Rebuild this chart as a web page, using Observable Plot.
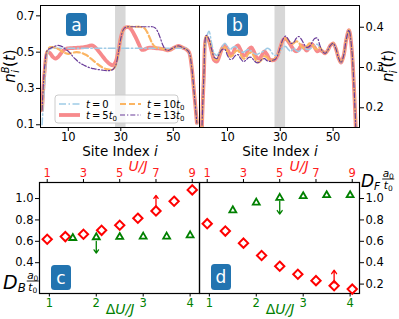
<!DOCTYPE html>
<html><head><meta charset="utf-8">
<script src="https://cdn.jsdelivr.net/npm/d3@7"></script>
<script src="https://cdn.jsdelivr.net/npm/@observablehq/plot@0.6"></script>
<style>
html,body{margin:0;padding:0;background:#fff;}
#fig{position:relative;width:399px;height:319px;overflow:hidden;font-family:"DejaVu Sans",sans-serif;background:#fff;}
#fig > svg{position:absolute;max-width:none;}
</style></head><body><div id="fig"></div>
<script>
// ---------- Panel a: boson density n_i^B(t), site index = array position ----------
const nB_t0 = [0.10,0.33,0.49,0.515,0.522,0.522,0.522,0.522,0.522,0.522,
  0.522,0.522,0.522,0.522,0.522,0.522,0.522,0.522,0.522,0.522,
  0.522,0.522,0.522,0.522,0.522,0.522,0.522,0.522,0.522,0.522,
  0.522,0.522,0.522,0.522,0.522,0.522,0.522,0.522,0.522,0.522,
  0.522,0.522,0.522,0.522,0.522,0.522,0.522,0.522,0.522,0.522,
  0.522,0.522,0.522,0.522,0.522,0.522,0.50,0.42,0.27,0.11];
const nB_t5 = [0.18,0.40,0.50,0.495,0.475,0.464,0.472,0.49,0.508,0.518,
  0.521,0.522,0.523,0.524,0.525,0.526,0.528,0.531,0.535,0.537,
  0.53,0.515,0.497,0.478,0.46,0.445,0.433,0.428,0.445,0.50,
  0.58,0.625,0.637,0.637,0.625,0.60,0.572,0.54,0.513,0.514,
  0.522,0.525,0.524,0.522,0.521,0.52,0.518,0.514,0.51,0.514,
  0.522,0.53,0.534,0.53,0.522,0.515,0.50,0.42,0.27,0.11];
const nB_t10 = [0.18,0.41,0.51,0.527,0.528,0.525,0.518,0.51,0.50,0.494,
  0.491,0.493,0.498,0.50,0.499,0.496,0.49,0.483,0.472,0.46,
  0.448,0.436,0.425,0.416,0.409,0.405,0.403,0.405,0.425,0.49,
  0.575,0.625,0.638,0.64,0.64,0.64,0.64,0.64,0.638,0.632,
  0.612,0.58,0.548,0.53,0.524,0.522,0.518,0.514,0.51,0.514,
  0.522,0.53,0.534,0.53,0.522,0.515,0.50,0.42,0.27,0.11];
const nB_t13 = [0.18,0.42,0.51,0.52,0.527,0.533,0.537,0.535,0.528,0.515,
  0.505,0.49,0.472,0.458,0.445,0.435,0.428,0.421,0.415,0.411,
  0.408,0.405,0.403,0.401,0.399,0.398,0.399,0.405,0.425,0.49,
  0.575,0.625,0.638,0.64,0.64,0.64,0.64,0.64,0.64,0.64,
  0.64,0.64,0.64,0.635,0.615,0.58,0.54,0.515,0.509,0.515,
  0.524,0.531,0.535,0.53,0.522,0.515,0.50,0.42,0.27,0.11];

// ---------- Panel b: fermion density n_i^F(t) ----------
const nF_t0 = [0.08,0.27,0.37,0.39,0.36,0.335,0.33,0.34,0.352,0.36,
  0.352,0.345,0.35,0.352,0.345,0.34,0.338,0.342,0.345,0.34,
  0.335,0.332,0.335,0.338,0.342,0.348,0.345,0.335,0.33,0.332,
  0.34,0.35,0.352,0.345,0.34,0.348,0.342,0.34,0.345,0.35,
  0.345,0.345,0.35,0.355,0.358,0.35,0.34,0.335,0.343,0.355,
  0.36,0.348,0.325,0.312,0.33,0.37,0.393,0.35,0.24,0.08];
const nF_t5 = [0.08,0.27,0.375,0.365,0.34,0.318,0.315,0.33,0.348,0.355,
  0.345,0.333,0.335,0.35,0.355,0.343,0.33,0.332,0.345,0.35,
  0.34,0.325,0.322,0.33,0.34,0.332,0.32,0.318,0.32,0.33,
  0.35,0.368,0.372,0.365,0.355,0.345,0.34,0.345,0.355,0.35,
  0.342,0.35,0.358,0.35,0.34,0.343,0.34,0.335,0.343,0.355,
  0.36,0.348,0.325,0.312,0.33,0.37,0.393,0.35,0.24,0.08];
const nF_t10 = [0.08,0.27,0.378,0.368,0.342,0.322,0.32,0.333,0.348,0.35,
  0.338,0.327,0.33,0.34,0.342,0.332,0.322,0.325,0.335,0.337,
  0.328,0.316,0.313,0.32,0.328,0.325,0.318,0.318,0.322,0.33,
  0.35,0.368,0.372,0.366,0.36,0.36,0.365,0.362,0.352,0.348,
  0.352,0.36,0.358,0.348,0.345,0.35,0.34,0.335,0.343,0.355,
  0.36,0.348,0.325,0.312,0.33,0.37,0.393,0.35,0.24,0.08];
const nF_t13 = [0.08,0.27,0.38,0.37,0.345,0.325,0.322,0.335,0.345,0.345,
  0.33,0.32,0.322,0.33,0.332,0.322,0.315,0.318,0.325,0.325,
  0.318,0.312,0.313,0.32,0.322,0.317,0.315,0.318,0.32,0.33,
  0.35,0.37,0.378,0.37,0.36,0.362,0.372,0.377,0.37,0.358,
  0.35,0.352,0.362,0.372,0.373,0.355,0.34,0.335,0.343,0.355,
  0.36,0.348,0.325,0.312,0.33,0.37,0.393,0.35,0.24,0.08];

const bandSites = [28, 32];
const siteTicks = [10, 30, 50];
const nBTicks = [0.1, 0.3, 0.5, 0.7];
const nFTicks = [0.2, 0.3, 0.4];

// ---------- Panels c, d: diffusion constants ----------
const U_J = [1, 2, 3, 4, 5, 6, 7, 8, 9];
const DB_vsU = [0.619, 0.644, 0.666, 0.703, 0.75, 0.816, 0.884, 0.975, 1.081];
const DF_vsU = [0.765, 0.696, 0.583, 0.467, 0.367, 0.292, 0.232, 0.185, 0.153];
const dU_J = [1.5, 2, 2.5, 3, 3.5, 4];
const DB_vsdU = [0.631, 0.638, 0.641, 0.644, 0.644, 0.656];
const DF_vsdU = [0.890, 0.962, 1.006, 1.022, 1.031, 1.031];
const uTicks = [1, 3, 5, 7, 9];
const dUTicks = [1, 2, 3, 4];
const dBTicks = [0.4, 0.6, 0.8, 1.0];
const dFTicks = [0.2, 0.4, 0.6, 0.8, 1.0];
// trend arrows: [x, from, to]
const arrowC_U = [7, 0.925, 1.03];
const arrowC_dU = [2, 0.60, 0.49];
const arrowD_U = [8, 0.21, 0.33];
const arrowD_dU = [2.5, 0.975, 0.855];

const seriesLabels = ["0", "5", "10", "13"];

// ---------- drawing ----------
const FONT = "'DejaVu Sans', sans-serif";
const fig = document.getElementById("fig");
function place(node, left, top) {
  node.style.position = "absolute";
  node.style.left = left + "px";
  node.style.top = top + "px";
  fig.appendChild(node);
}
const styles = {
  "0":  {stroke: "#9fcbe6", w: 1.5, dash: "7,2.5,1.5,2.5"},
  "5":  {stroke: "#f78a8c", w: 3.8, dash: null},
  "10": {stroke: "#fbb563", w: 2.2, dash: "6,3"},
  "13": {stroke: "#6a3d9a", w: 1.2, dash: "5,2,1.3,2"}
};
const drawOrder = ["5", "0", "10", "13"];
const rows = arr => arr.map((v, i) => ({site: i, n: v}));

function densityPanel(series, yDomain, yTicks, side) {
  const marks = [Plot.rect([bandSites], {x1: d => d[0], x2: d => d[1], fill: "#d7d7d7"})];
  for (const k of drawOrder) {
    const s = styles[k];
    marks.push(Plot.line(rows(series[k]), {
      x: "site", y: "n", stroke: s.stroke, strokeWidth: s.w,
      strokeDasharray: s.dash, curve: "catmull-rom", clip: true
    }));
  }
  marks.push(Plot.frame({stroke: "black", strokeWidth: 1}));
  marks.push(Plot.axisX({ticks: siteTicks, tickSize: 4, tickPadding: 1, label: null, tickFormat: d3.format("d")}));
  marks.push(Plot.axisY({anchor: side, ticks: yTicks, tickSize: 4, tickPadding: 2, label: null, tickFormat: d3.format(".1f")}));
  return Plot.plot({
    width: 200, height: 160,
    marginLeft: side === "left" ? 40 : 0, marginRight: side === "left" ? 1 : 40,
    marginTop: 5, marginBottom: 33,
    x: {domain: [-0.6, 60], label: null},
    y: {domain: yDomain, label: null},
    style: {background: "transparent", fontSize: "11.5px", fontFamily: FONT, color: "black", overflow: "visible"},
    marks
  });
}

place(densityPanel({"0": nB_t0, "5": nB_t5, "10": nB_t10, "13": nB_t13}, [0.085, 0.757], nBTicks, "left"), 0, 0);
place(densityPanel({"0": nF_t0, "5": nF_t5, "10": nF_t10, "13": nF_t13}, [0.151, 0.454], nFTicks, "right"), 199, 0);

const geomCD = (side) => ({
  width: 200, height: 169,
  marginLeft: side === "left" ? 39 : 0, marginRight: side === "left" ? 1 : 40,
  marginTop: 32, marginBottom: 26
});
const Dy = [0.112, 1.15];

function uPanel(Dvals, yTicks, side, arrow) {
  const data = U_J.map((u, i) => ({u, D: Dvals[i]}));
  return Plot.plot({
    ...geomCD(side),
    x: {domain: [0.575, 9.4], label: null},
    y: {domain: Dy, label: null},
    style: {background: "transparent", fontSize: "11.5px", fontFamily: FONT, color: "black", overflow: "visible"},
    marks: [
      Plot.frame({stroke: "black", strokeWidth: 1.2}),
      Plot.axisX({anchor: "top", ticks: uTicks, tickSize: 4, tickPadding: 2, label: null, color: "#ff2020", stroke: "black", tickFormat: d3.format("d")}),
      Plot.axisY({anchor: side, ticks: yTicks, tickSize: 4, tickPadding: 2, label: null, tickFormat: d3.format(".1f")}),
      Plot.arrow([arrow], {x1: d => d[0], x2: d => d[0], y1: d => d[1], y2: d => d[2], stroke: "red", strokeWidth: 1.3, headLength: 5, headAngle: 70}),
      Plot.dot(data, {x: "u", y: "D", symbol: "diamond2", r: 4.2, stroke: "red", strokeWidth: 2, fill: "none"})
    ]
  });
}
function dUPanel(Dvals, side, arrow) {
  const data = dU_J.map((x, i) => ({x, D: Dvals[i]}));
  return Plot.plot({
    ...geomCD(side),
    x: {domain: [0.79, 4.2], label: null},
    y: {domain: Dy, label: null, axis: null},
    style: {background: "transparent", fontSize: "11.5px", fontFamily: FONT, color: "black", overflow: "visible"},
    marks: [
      Plot.axisX({anchor: "bottom", ticks: dUTicks, tickSize: 3.5, tickPadding: 1.5, label: null, color: "green", stroke: "black", tickFormat: d3.format("d")}),
      Plot.arrow([arrow], {x1: d => d[0], x2: d => d[0], y1: d => d[1], y2: d => d[2], stroke: "green", strokeWidth: 1.3, headLength: 5, headAngle: 70}),
      Plot.dot(data, {x: "x", y: "D", symbol: "triangle2", r: 3.3, stroke: "green", strokeWidth: 1.8, fill: "none"})
    ]
  });
}
place(uPanel(DB_vsU, dBTicks, "left", arrowC_U), 0, 150);
place(dUPanel(DB_vsdU, "left", arrowC_dU), 0, 150);
place(uPanel(DF_vsU, dFTicks, "right", arrowD_U), 199, 150);
place(dUPanel(DF_vsdU, "right", arrowD_dU), 199, 150);

// ---------- overlay: labels, legend, panel tags ----------
const ov = d3.create("svg").attr("width", 399).attr("height", 319)
  .attr("font-family", FONT).style("pointer-events", "none");

function siteLabel(cx) {
  const t = ov.append("text").attr("x", cx).attr("y", 155.5).attr("text-anchor", "middle").attr("font-size", 13.5);
  t.append("tspan").text("Site Index ");
  t.append("tspan").attr("font-style", "italic").text("i");
}
siteLabel(120); siteLabel(280);

function nLabel(cx, cy, sup) {
  const t = ov.append("text").attr("transform", `translate(${cx},${cy}) rotate(-90)`)
    .attr("text-anchor", "middle").attr("font-size", 15);
  t.append("tspan").attr("font-style", "italic").text("n");
  t.append("tspan").attr("font-style", "italic").attr("font-size", 10).attr("dy", -6).text(sup);
  t.append("tspan").attr("font-style", "italic").attr("font-size", 10).attr("dx", -6.5).attr("dy", 10).text("i");
  t.append("tspan").attr("dy", -4).attr("dx", 3).text("(");
  t.append("tspan").attr("font-style", "italic").text("t");
  t.append("tspan").text(")");
}
nLabel(15, 66, "B");
nLabel(393, 66, "F");

// legend
const lg = ov.append("g");
lg.append("rect").attr("x", 55).attr("y", 95).attr("width", 123).attr("height", 28).attr("rx", 3)
  .attr("fill", "white").attr("fill-opacity", 0.8).attr("stroke", "#cccccc").attr("stroke-width", 1);
const legPos = {"0": [59, 104], "10": [120, 104], "5": [59, 115], "13": [120, 115]};
for (const k of seriesLabels) {
  const [lx, ly] = legPos[k], s = styles[k];
  lg.append("line").attr("x1", lx).attr("x2", lx + 21).attr("y1", ly).attr("y2", ly)
    .attr("stroke", s.stroke).attr("stroke-width", s.w).attr("stroke-dasharray", s.dash);
  const t = lg.append("text").attr("x", lx + 27).attr("y", ly + 3.5).attr("font-size", 10);
  t.append("tspan").attr("font-style", "italic").text("t");
  t.append("tspan").text("\u2009=\u2009" + (k === "0" ? "0" : k));
  if (k !== "0") {
    t.append("tspan").attr("font-style", "italic").text("t");
    t.append("tspan").attr("font-size", 7).attr("dy", 2.5).text("0");
  }
}

// panel tags
const tags = [["a", 66, 13, 21, 23], ["b", 227, 13, 21, 23], ["c", 51, 265, 20, 25], ["d", 211, 264, 20, 26]];
for (const [lab, x, y, w, h] of tags) {
  ov.append("rect").attr("x", x).attr("y", y).attr("width", w).attr("height", h).attr("rx", 3.5).attr("fill", "#2274b0");
  ov.append("text").attr("x", x + w / 2).attr("y", y + h / 2 + 6).attr("text-anchor", "middle")
    .attr("font-size", 17).attr("fill", "white").text(lab);
}

// U/J and ΔU/J labels
function uLabel(cx) {
  ov.append("text").attr("x", cx).attr("y", 171).attr("text-anchor", "middle").attr("font-size", 14)
    .attr("fill", "#ff2020").attr("font-style", "italic").text("U/J");
}
function dULabel(cx) {
  const t = ov.append("text").attr("x", cx).attr("y", 314).attr("text-anchor", "middle").attr("font-size", 14)
    .attr("fill", "green");
  t.append("tspan").text("\u0394");
  t.append("tspan").attr("font-style", "italic").text("U/J");
}
uLabel(138); uLabel(299);
dULabel(120); dULabel(280);

// D labels
function dLabel(x, y, sub, fs) {
  const g = ov.append("g");
  const t = g.append("text").attr("x", x).attr("y", y).attr("font-size", fs).attr("font-style", "italic");
  t.append("tspan").text("D");
  t.append("tspan").attr("font-size", fs * 0.62).attr("dy", 3).text(sub);
  const fx = x + fs * 1.25, fw = 12;
  g.append("line").attr("x1", fx).attr("x2", fx + fw).attr("y1", y - 8).attr("y2", y - 8).attr("stroke", "black").attr("stroke-width", 0.9);
  const a = g.append("text").attr("x", fx + fw / 2).attr("y", y - 10.5).attr("text-anchor", "middle").attr("font-size", 10.5);
  a.append("tspan").attr("font-style", "italic").text("a");
  a.append("tspan").attr("font-size", 7.5).attr("dy", 2).text("0");
  const b = g.append("text").attr("x", fx + fw / 2).attr("y", y + 2).attr("text-anchor", "middle").attr("font-size", 10.5);
  b.append("tspan").attr("font-style", "italic").text("t");
  b.append("tspan").attr("font-size", 7.5).attr("dy", 2).text("0");
}
dLabel(3, 289, "B", 19);
dLabel(361, 187, "F", 17);

place(ov.node(), 0, 0);
</script></body></html>
